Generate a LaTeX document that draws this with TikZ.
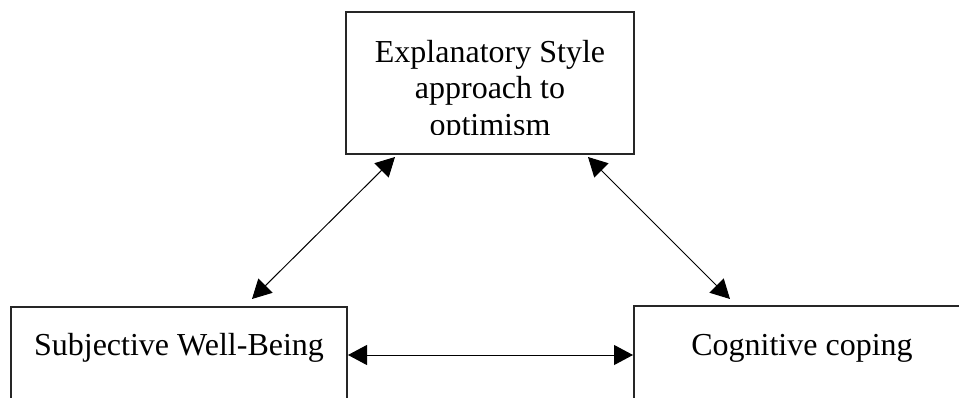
\documentclass[tikz,border=0pt]{standalone}
\usepackage{fontspec}
\setmainfont{Liberation Serif}
\usetikzlibrary{arrows.meta}
\begin{document}
\begin{tikzpicture}[x=1pt,y=-1pt,
  boxstyle/.style={draw=black!85, line width=1.3pt, fill=white, rectangle,
    inner sep=0pt, outer sep=0pt},
  labelstyle/.style={inner sep=0pt, anchor=base, font=\fontsize{32}{36}\selectfont},
  linkstyle/.style={draw=black, line width=1pt,
    {Triangle[length=19pt,width=20pt]}-{Triangle[length=19pt,width=20pt]}}]
  % page frame
  \clip (0,0) rectangle (959,397);
  \fill[white] (0,0) rectangle (959,397);

  % the three boxes (the lower two run past the bottom edge)
  \node[boxstyle, minimum width=288pt, minimum height=142pt] (top) at (490,83) {};
  \node[boxstyle, minimum width=336pt, minimum height=134pt] (swb) at (179,374) {};
  \node[boxstyle, minimum width=336pt, minimum height=134pt] (cc) at (802,373) {};

  % box texts
  \begin{scope}
    \clip (347,13) rectangle (633,134.4);
    \node[labelstyle] (t1) at (490,62) {Explanatory Style};
    \node[labelstyle] (t2) at (490,98.5) {approach to};
    \node[labelstyle] (t3) at (490,135) {optimism};
  \end{scope}
  \node[labelstyle] (t4) at (179,355) {Subjective Well-Being};
  \node[labelstyle] (t5) at (802,355) {Cognitive coping};

  % connector end points
  \coordinate (a1) at (395,157);
  \coordinate (a2) at (252,299);
  \coordinate (b1) at (588,157);
  \coordinate (b2) at (730,299);
  \coordinate (c1) at (348,355);
  \coordinate (c2) at (633,355);

  % double-headed links
  \draw[linkstyle] (a1) -- (a2);
  \draw[linkstyle] (b1) -- (b2);
  \draw[linkstyle] (c1) -- (c2);
\end{tikzpicture}
\end{document}
